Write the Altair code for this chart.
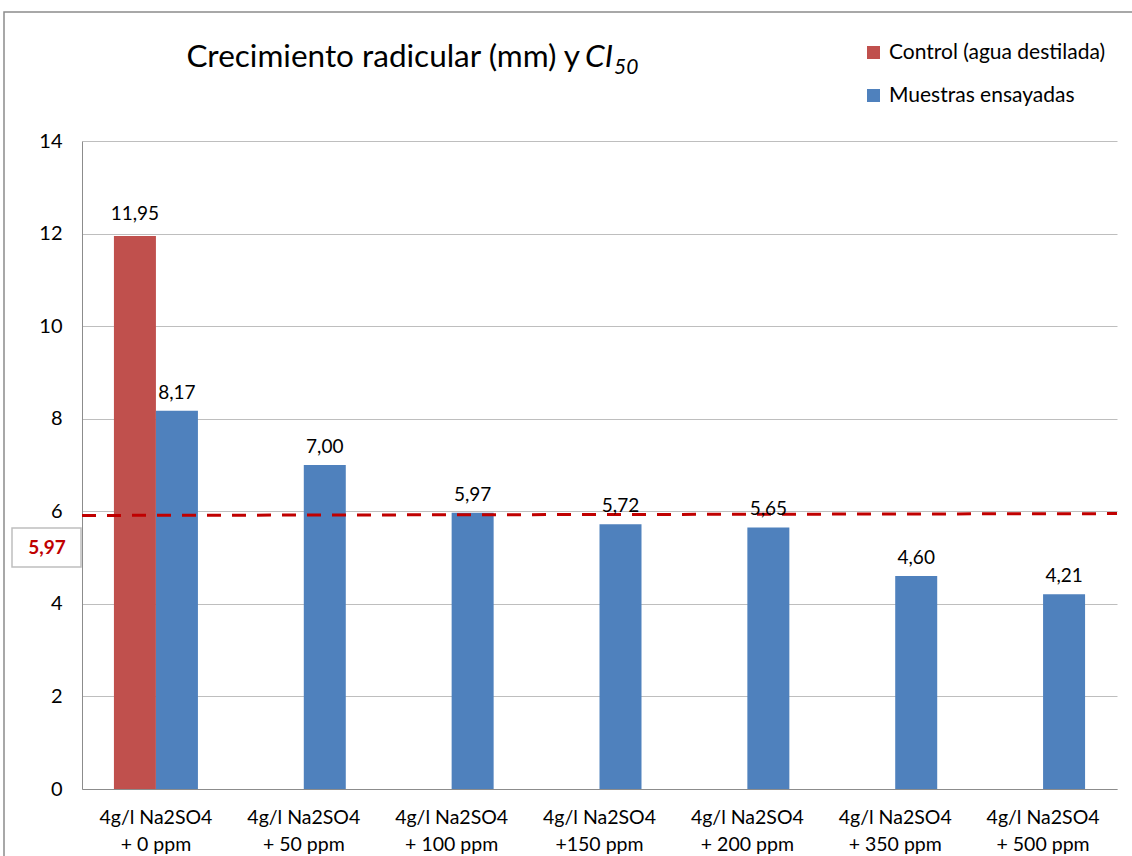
import altair as alt
import pandas as pd

# ---------------- data ----------------
categories = [
    "4g/l Na2SO4|+ 0 ppm",
    "4g/l Na2SO4|+ 50 ppm",
    "4g/l Na2SO4|+ 100 ppm",
    "4g/l Na2SO4|+150 ppm",
    "4g/l Na2SO4|+ 200 ppm",
    "4g/l Na2SO4|+ 350 ppm",
    "4g/l Na2SO4|+ 500 ppm",
]
series_names = ["Control (agua destilada)", "Muestras ensayadas"]
control_values = [11.95]  # only the first category has a control bar
sample_values = [8.17, 7.00, 5.97, 5.72, 5.65, 4.60, 4.21]
ci50_label = "5,97"
ci50_line_start = 5.91
ci50_line_end = 5.95
y_ticks = [0, 2, 4, 6, 8, 10, 12, 14]

RED = "#C0504D"
BLUE = "#4F81BD"
DARKRED = "#C00000"
FONT = "Lato"

W, H = 1035, 648


def fmt(v):
    return f"{v:.2f}".replace(".", ",")


control_df = pd.DataFrame({
    "cat": categories[:len(control_values)],
    "value": control_values,
    "series": series_names[0],
})
control_df["label"] = control_df["value"].map(fmt)

sample_df = pd.DataFrame({
    "cat": categories,
    "value": sample_values,
    "series": series_names[1],
})
sample_df["label"] = sample_df["value"].map(fmt)

line_df = pd.DataFrame({"y1": [ci50_line_start], "y2": [ci50_line_end]})

x_enc = alt.X(
    "cat:N",
    sort=categories,
    scale=alt.Scale(paddingInner=0, paddingOuter=0),
    axis=alt.Axis(
        title=None,
        labelAngle=0,
        labelExpr="split(datum.label, '|')",
        labelFontSize=19.5,
        labelLineHeight=27,
        labelPadding=19,
        labelColor="#000000",
        labelFont=FONT,
        labelLimit=0,
        ticks=False,
        domainColor="#8C8C8C",
        grid=False,
    ),
)
y_enc = alt.Y(
    "value:Q",
    scale=alt.Scale(domain=[0, 14], nice=False, zero=True),
    axis=alt.Axis(
        title=None,
        values=y_ticks,
        labelFontSize=20,
        labelPadding=20,
        labelColor="#000000",
        labelFont=FONT,
        ticks=False,
        domainColor="#8C8C8C",
        gridColor="#BEBEBE",
        grid=True,
    ),
)
color_enc = alt.Color(
    "series:N",
    scale=alt.Scale(domain=series_names, range=[RED, BLUE]),
    legend=alt.Legend(
        title=None,
        orient="none",
        legendX=781,
        legendY=-99,
        symbolType="square",
        symbolSize=169,
        symbolStrokeWidth=0,
        labelFontSize=21,
        labelFont=FONT,
        labelColor="#000000",
        labelOffset=5,
        labelLimit=0,
        rowPadding=21,
    ),
)

BW = 42
LBL = 19

control_bars = alt.Chart(control_df).mark_bar(size=BW, xOffset=-BW / 2).encode(
    x=x_enc, y=y_enc, color=color_enc
)
control_text = alt.Chart(control_df).mark_text(
    xOffset=-BW / 2, dy=-12, baseline="bottom", fontSize=LBL, font=FONT, color="#000000"
).encode(x=alt.X("cat:N", sort=categories), y="value:Q", text="label:N")

sample_bars = alt.Chart(sample_df).mark_bar(
    size=BW, xOffset=BW / 2
).encode(x=alt.X("cat:N", sort=categories), y="value:Q", color=color_enc)
sample_text = alt.Chart(sample_df).mark_text(
    xOffset=BW / 2, dy=-8, baseline="bottom", fontSize=LBL, font=FONT, color="#000000"
).encode(x=alt.X("cat:N", sort=categories), y="value:Q", text="label:N")

ci_line = alt.Chart(line_df).mark_rule(
    color=DARKRED, strokeWidth=3, strokeDash=[14, 11]
).encode(
    x=alt.value(0), x2=alt.value(W), y=alt.Y("y1:Q"), y2=alt.Y2("y2:Q")
)

ci_box = alt.Chart(line_df).mark_rect(
    fill="white", stroke="#BFBFBF", strokeWidth=1.5
).encode(x=alt.value(-70), x2=alt.value(-1), y=alt.value(387), y2=alt.value(426))
ci_text = alt.Chart(line_df).mark_text(
    fontSize=19, fontWeight="bold", color=DARKRED, font=FONT, baseline="middle", align="center"
).encode(x=alt.value(-35), y=alt.value(407), text=alt.value(ci50_label))

frame = alt.Chart(line_df).mark_rect(
    fill=None, stroke="#8C8C8C", strokeWidth=1.5
).encode(x=alt.value(-78), x2=alt.value(1132), y=alt.value(-129), y2=alt.value(900))

title_main = alt.Chart(line_df).mark_text(
    fontSize=31.5, font=FONT, color="#000000", align="right", baseline="alphabetic"
).encode(x=alt.value(498), y=alt.value(-74), text=alt.value("Crecimiento radicular (mm) y"))
title_ci = alt.Chart(line_df).mark_text(
    fontSize=31.5, font=FONT, fontStyle="italic", color="#000000", align="left", baseline="alphabetic"
).encode(x=alt.value(503), y=alt.value(-74), text=alt.value("CI"))
title_sub = alt.Chart(line_df).mark_text(
    fontSize=21, font=FONT, fontStyle="italic", color="#000000", align="left", baseline="alphabetic"
).encode(x=alt.value(532), y=alt.value(-67), text=alt.value("50"))

chart = alt.layer(
    frame,
    control_bars, sample_bars,
    ci_line,
    control_text, sample_text,
    ci_box, ci_text,
    title_main, title_ci, title_sub,
).properties(
    width=W,
    height=H,
    autosize=alt.AutoSizeParams(type="none"),
    padding={"left": 82, "top": 141, "right": 15, "bottom": 67},
    background="white",
).configure_view(stroke=None)

chart.save("out.html", embed_options={"renderer": "svg", "actions": False})
